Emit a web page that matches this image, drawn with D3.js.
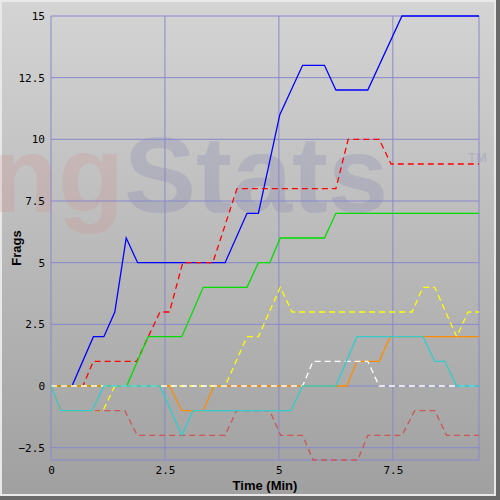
<!DOCTYPE html>
<html><head><meta charset="utf-8">
<script src="https://cdn.jsdelivr.net/npm/d3@7"></script>
<style>body{margin:0}svg{display:block}</style>
</head><body>
<svg id="chart" width="500" height="500"></svg>
<script>
// series: [time (min), frags] pairs
var blue   = [[0,0],[0.46,0],[0.93,2],[1.16,2],[1.4,3],[1.65,6],[1.9,5],[3.82,5],[4.3,7],[4.55,7],[5.02,11],[5.52,13],[6.0,13],[6.25,12],[6.95,12],[7.7,15],[9.39,15]];
var red    = [[0,0],[0.7,0],[0.93,1],[1.88,1],[2.39,3],[2.6,3],[2.89,5],[3.55,5],[4.08,8],[6.25,8],[6.52,10],[7.2,10],[7.46,9],[9.39,9]];
var green  = [[0,0],[1.66,0],[2.13,2],[2.87,2],[3.34,4],[4.3,4],[4.55,5],[4.8,5],[5.03,6],[6.0,6],[6.25,7],[9.39,7]];
var yellow = [[0,0],[0.22,-1],[1.14,-1],[1.4,0],[3.82,0],[4.3,2],[4.55,2],[5.03,4],[5.29,3],[7.92,3],[8.16,4],[8.42,4],[8.9,2],[9.15,3],[9.39,3]];
var orange = [[0,0],[2.6,0],[2.87,-1],[3.34,-1],[3.57,0],[6.49,0],[6.71,1],[7.2,1],[7.44,2],[9.39,2]];
var white  = [[0,0],[5.52,0],[5.75,1],[6.95,1],[7.2,0],[9.39,0]];
var brown  = [[0,0],[0.22,-1],[1.62,-1],[1.89,-2],[3.82,-2],[4.07,-1],[4.8,-1],[5.04,-2],[5.52,-2],[5.75,-3],[6.73,-3],[6.95,-2],[7.7,-2],[7.98,-1],[8.42,-1],[8.68,-2],[9.39,-2]];
var cyan   = [[0,0],[0.22,-1],[0.9,-1],[1.16,0],[2.39,0],[2.87,-2],[3.12,-1],[5.26,-1],[5.52,0],[6.25,0],[6.71,2],[8.16,2],[8.42,1],[8.64,1],[8.9,0],[9.39,0]];

var xTicks = [0, 2.5, 5, 7.5];
var yTicks = [-2.5, 0, 2.5, 5, 7.5, 10, 12.5, 15];

var series = [
  {data: blue,   color: "#0000ff", dash: null},
  {data: red,    color: "#ff0000", dash: "6,4"},
  {data: green,  color: "#00dd00", dash: null},
  {data: yellow, color: "#ffff00", dash: "6,4"},
  {data: orange, color: "#ff8c00", dash: null},
  {data: white,  color: "#ffffff", dash: "6,4"},
  {data: brown,  color: "#cc5555", dash: "6,4"},
  {data: cyan,   color: "#33cccc", dash: null}
];

var svg = d3.select("#chart");
var defs = svg.append("defs");
var g1 = defs.append("linearGradient").attr("id","bg").attr("x1",0).attr("y1",0).attr("x2",0).attr("y2",1);
g1.append("stop").attr("offset","0%").attr("stop-color","#d4d4d4");
g1.append("stop").attr("offset","100%").attr("stop-color","#a0a0a0");

// frame with bevel
svg.append("rect").attr("width",500).attr("height",500).attr("fill","#6a6a6a");
svg.append("rect").attr("width",496).attr("height",496).attr("fill","#e8e8e8");
svg.append("rect").attr("x",2).attr("y",2).attr("width",492).attr("height",492).attr("fill","url(#bg)");

var x = d3.scaleLinear().domain([0, 9.39]).range([51, 479]);
var y = d3.scaleLinear().domain([-3, 15]).range([460, 16]);

// watermark
var wm = svg.append("text").attr("x",-8).attr("y",212)
  .attr("font-family","Liberation Sans, Arial, sans-serif").attr("font-weight","bold").attr("font-size",108);
wm.append("tspan").attr("fill","#d08080").attr("fill-opacity",0.2).text("ng");
wm.append("tspan").attr("fill","#7070a8").attr("fill-opacity",0.2).text("Stats");
svg.append("text").attr("x",468).attr("y",162).attr("font-family","Liberation Sans, Arial, sans-serif")
  .attr("font-weight","bold").attr("font-size",13).attr("fill","#7070a8").attr("fill-opacity",0.2).text("TM");

// grid
var grid = svg.append("g").attr("stroke","#8888cc").attr("stroke-width",1);
xTicks.concat([9.39]).forEach(function(t){
  grid.append("line").attr("x1",x(t)).attr("x2",x(t)).attr("y1",y(15)).attr("y2",y(-3));
});
yTicks.concat([-3]).forEach(function(t){
  grid.append("line").attr("x1",x(0)).attr("x2",x(9.39)).attr("y1",y(t)).attr("y2",y(t));
});

var xAxis = svg.append("g").attr("transform","translate(0,"+y(-3)+")")
  .call(d3.axisBottom(x).tickValues(xTicks).tickSize(0).tickPadding(6).tickFormat(d3.format("")));
var yAxis = svg.append("g").attr("transform","translate("+x(0)+",0)")
  .call(d3.axisLeft(y).tickValues(yTicks).tickSize(0).tickPadding(6).tickFormat(d3.format("")));
[xAxis, yAxis].forEach(function(a){
  a.select(".domain").remove();
  a.selectAll("text").attr("font-family","DejaVu Sans Mono, monospace").attr("font-size",11).attr("fill","#000");
});

var line = d3.line().x(function(d){return x(d[0]);}).y(function(d){return y(d[1]);});
series.forEach(function(s){
  svg.append("path").datum(s.data).attr("d",line).attr("fill","none")
    .attr("stroke",s.color).attr("stroke-width",1.3)
    .attr("stroke-dasharray",s.dash);
});

svg.append("text").attr("x",265).attr("y",490).attr("text-anchor","middle")
  .attr("font-family","Liberation Sans, Arial, sans-serif").attr("font-weight","bold").attr("font-size",13).text("Time (Min)");
svg.append("text").attr("transform","translate(21,248) rotate(-90)").attr("text-anchor","middle")
  .attr("font-family","Liberation Sans, Arial, sans-serif").attr("font-weight","bold").attr("font-size",13).text("Frags");
</script>
</body></html>
